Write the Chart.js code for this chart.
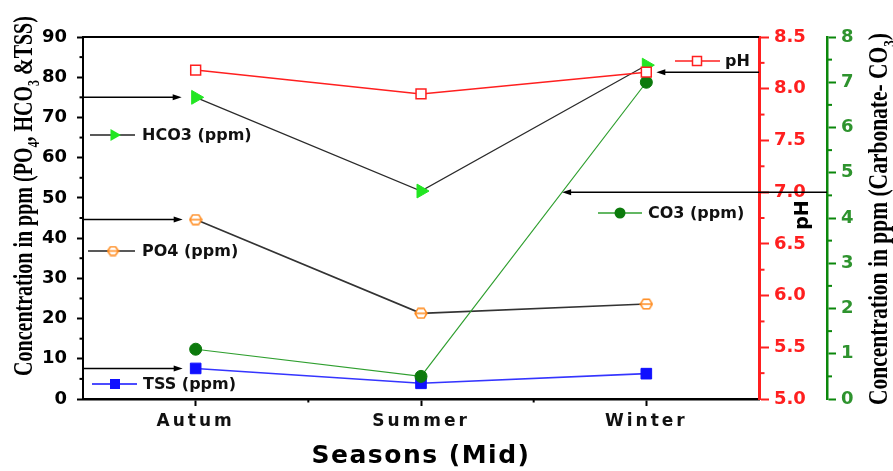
<!DOCTYPE html>
<html>
<head>
<meta charset="utf-8">
<script src="https://cdn.jsdelivr.net/npm/chart.js@4.4.1/dist/chart.umd.min.js"></script>
<style>
  html, body { margin: 0; padding: 0; background: #fff; }
  canvas { display: block; }
</style>
</head>
<body>
<canvas id="c" width="893" height="471"></canvas>
<script>
// Seasonal water chemistry (mid-season samples)
const seasons = ['Autum', 'Summer', 'Winter'];
const hco3 = [75, 51.7, 83];      // ppm, left axis
const po4 = [44.6, 21.3, 23.6];   // ppm, left axis
const tss = [7.6, 3.9, 6.3];      // ppm, left axis
const pH = [8.18, 7.95, 8.16];    // pH, first right axis
const co3 = [1.1, 0.5, 7.0];      // ppm, second right axis

const leftTicks = [0, 10, 20, 30, 40, 50, 60, 70, 80, 90];
const pHTicks = [5.0, 5.5, 6.0, 6.5, 7.0, 7.5, 8.0, 8.5];
const co3Ticks = [0, 1, 2, 3, 4, 5, 6, 7, 8];
const pHNeutral = 7.0;

const SANS = 'DejaVu Sans';
const SERIF = 'Liberation Serif';
const RED = '#ff1f1f';
const GREEN_AXIS = '#0b870b';
const GREEN_TEXT = '#2e932e';
const LIME = '#22e622';
const DARK_GREEN = '#0c7a0c';
const ORANGE = '#ff8a1c';
const BLUE = '#1010ff';

// Orange hexagon marker with a bar through it
function hexMarker(w, h) {
  const c = document.createElement('canvas');
  c.width = w; c.height = h;
  const g = c.getContext('2d');
  g.strokeStyle = ORANGE; g.lineWidth = 1.5; g.fillStyle = '#fff';
  const m = h / 2;
  g.beginPath();
  g.moveTo(4, 1.2); g.lineTo(w - 4, 1.2); g.lineTo(w - 1, m);
  g.lineTo(w - 4, h - 1.2); g.lineTo(4, h - 1.2); g.lineTo(1, m);
  g.closePath(); g.fill(); g.stroke();
  g.beginPath(); g.moveTo(1, m); g.lineTo(w - 1, m); g.stroke();
  return c;
}
const hexImg = hexMarker(14, 12);
const hexSmall = hexMarker(13, 11);

function ticksFrom(values) {
  return scale => { scale.ticks = values.map(v => ({ value: v })); };
}

// ---- marker helpers for the in-plot legend keys ----
function keyTriangle(ctx, x, y, r, color) {
  ctx.fillStyle = color;
  ctx.beginPath();
  ctx.moveTo(x + r, y);
  ctx.lineTo(x - r / 2, y - r * 0.866);
  ctx.lineTo(x - r / 2, y + r * 0.866);
  ctx.closePath();
  ctx.fill();
}
function keySquare(ctx, x, y, s, fill, stroke) {
  ctx.fillStyle = fill;
  ctx.fillRect(x - s / 2, y - s / 2, s, s);
  if (stroke) {
    ctx.strokeStyle = stroke; ctx.lineWidth = 1.5;
    ctx.strokeRect(x - s / 2, y - s / 2, s, s);
  }
}
function keyCircle(ctx, x, y, r, color) {
  ctx.fillStyle = color;
  ctx.beginPath(); ctx.arc(x, y, r, 0, Math.PI * 2); ctx.fill();
}

// text with subscripts, drawn from local origin along the baseline
function richText(ctx, parts, size, family, align) {
  const main = `bold ${size}px "${family}"`;
  const sub = `bold ${Math.round(size * 0.62)}px "${family}"`;
  let total = 0;
  for (const p of parts) {
    ctx.font = p.sub ? sub : main;
    total += ctx.measureText(p.t).width;
  }
  let x = align === 'center' ? -total / 2 : 0;
  ctx.textBaseline = 'alphabetic';
  ctx.textAlign = 'left';
  for (const p of parts) {
    ctx.font = p.sub ? sub : main;
    ctx.fillText(p.t, x, p.sub ? size * 0.28 : 0);
    x += ctx.measureText(p.t).width;
  }
}

function arrow(ctx, x0, y, x1) {
  // line from x0 to x1 with a head at x1
  const dir = Math.sign(x1 - x0);
  ctx.strokeStyle = '#000'; ctx.lineWidth = 1.5;
  ctx.beginPath(); ctx.moveTo(x0, y); ctx.lineTo(x1 - dir * 6, y); ctx.stroke();
  ctx.fillStyle = '#000';
  ctx.beginPath();
  ctx.moveTo(x1, y);
  ctx.lineTo(x1 - dir * 9, y - 3);
  ctx.lineTo(x1 - dir * 9, y + 3);
  ctx.closePath(); ctx.fill();
}

const decor = {
  id: 'decor',
  beforeDraw(chart) {
    const ctx = chart.ctx;
    ctx.save();
    ctx.fillStyle = '#fff';
    ctx.fillRect(0, 0, chart.width, chart.height);
    ctx.restore();
    const xs = chart.scales.x;
    if (!xs._spaced) {
      const orig = xs.drawLabels;
      xs.drawLabels = function (area) {
        this.ctx.save();
        this.ctx.letterSpacing = '3px';
        orig.call(this, area);
        this.ctx.restore();
      };
      xs._spaced = true;
    }
  },
  afterDraw(chart) {
    const ctx = chart.ctx;
    const { x, y, yPH, yCO3 } = chart.scales;
    const area = chart.chartArea;
    ctx.save();

    // frame top edge
    ctx.strokeStyle = '#000'; ctx.lineWidth = 2;
    ctx.beginPath(); ctx.moveTo(area.left, area.top); ctx.lineTo(area.right, area.top); ctx.stroke();

    // minor ticks
    const mids = arr => arr.slice(1).map((v, i) => (v + arr[i]) / 2);
    ctx.lineWidth = 2;
    ctx.strokeStyle = '#000';
    for (const v of mids(leftTicks)) {
      const py = y.getPixelForValue(v);
      ctx.beginPath(); ctx.moveTo(area.left, py); ctx.lineTo(area.left - 3.5, py); ctx.stroke();
    }
    for (let i = 0; i < seasons.length - 1; i++) {
      const px = (x.getPixelForValue(i) + x.getPixelForValue(i + 1)) / 2;
      ctx.beginPath(); ctx.moveTo(px, area.bottom); ctx.lineTo(px, area.bottom + 3.5); ctx.stroke();
    }
    ctx.strokeStyle = RED;
    for (const v of mids(pHTicks)) {
      const py = yPH.getPixelForValue(v);
      ctx.beginPath(); ctx.moveTo(yPH.left, py); ctx.lineTo(yPH.left + 5.5, py); ctx.stroke();
    }
    ctx.strokeStyle = GREEN_AXIS;
    for (const v of mids(co3Ticks)) {
      const py = yCO3.getPixelForValue(v);
      ctx.beginPath(); ctx.moveTo(yCO3.left, py); ctx.lineTo(yCO3.left + 5, py); ctx.stroke();
    }

    // pointers from the axes
    const x0 = x.getPixelForValue(0);
    const x2 = x.getPixelForValue(2);
    arrow(ctx, area.left, y.getPixelForValue(hco3[0]), x0 - 14);
    arrow(ctx, area.left, y.getPixelForValue(po4[0]), x0 - 13);
    arrow(ctx, area.left, y.getPixelForValue(tss[0]), x0 - 13);
    arrow(ctx, area.right, yPH.getPixelForValue(pH[2]), x2 + 10);
    // neutral pH line ends where the carbonate line crosses it
    const yN = yPH.getPixelForValue(pHNeutral);
    const ca = { x: x.getPixelForValue(1), y: yCO3.getPixelForValue(co3[1]) };
    const cb = { x: x.getPixelForValue(2), y: yCO3.getPixelForValue(co3[2]) };
    const xN = ca.x + (ca.y - yN) / (ca.y - cb.y) * (cb.x - ca.x);
    arrow(ctx, yCO3.left, yN, xN);

    // legend keys placed inside the plot
    ctx.lineWidth = 1.5;
    const keyLine = (xa, xb, yy, color) => {
      ctx.strokeStyle = color;
      ctx.beginPath(); ctx.moveTo(xa, yy); ctx.lineTo(xb, yy); ctx.stroke();
    };
    const keyText = (t, tx, ty) => {
      ctx.fillStyle = '#111';
      ctx.font = `bold 16px "${SANS}"`;
      ctx.textAlign = 'left'; ctx.textBaseline = 'middle';
      ctx.fillText(t, tx, ty);
    };
    keyLine(90, 135, 135, '#222'); keyTriangle(ctx, 114, 135, 7, LIME); keyText('HCO3 (ppm)', 142, 136);
    keyLine(88, 135, 251, '#222'); ctx.drawImage(hexSmall, 113 - 6.5, 251 - 5.5); keyText('PO4 (ppm)', 142, 252);
    keyLine(92, 137, 384, BLUE); keySquare(ctx, 115, 384, 10, BLUE); keyText('TSS (ppm)', 143, 385);
    keyLine(675, 720, 61, RED); keySquare(ctx, 697, 61, 9, '#fff', RED); keyText('pH', 725, 62);
    keyLine(598, 642, 213, '#2f9f2f'); keyCircle(ctx, 620, 213, 5.5, DARK_GREEN); keyText('CO3 (ppm)', 648, 214);

    // axis titles
    ctx.fillStyle = '#000';
    ctx.save();
    ctx.translate(32, 196); ctx.scale(1.33, 1); ctx.rotate(-Math.PI / 2);
    richText(ctx, [{ t: 'Concentration in ppm (PO' }, { t: '4', sub: true }, { t: ', HCO' }, { t: '3', sub: true }, { t: ' &TSS)' }], 20, SERIF, 'center');
    ctx.restore();

    ctx.save();
    ctx.translate(887, 219); ctx.scale(1.3, 1); ctx.rotate(-Math.PI / 2);
    richText(ctx, [{ t: 'Concentration in ppm (Carbonate- CO' }, { t: '3', sub: true }, { t: ')' }], 21.5, SERIF, 'center');
    ctx.restore();

    ctx.save();
    ctx.translate(808, 215); ctx.rotate(-Math.PI / 2);
    ctx.font = `bold 19px "${SANS}"`;
    ctx.textAlign = 'center'; ctx.textBaseline = 'alphabetic';
    ctx.fillText('pH', 0, 0);
    ctx.restore();

    ctx.font = `bold 25px "${SANS}"`;
    ctx.letterSpacing = '1.5px';
    ctx.textAlign = 'center'; ctx.textBaseline = 'alphabetic';
    ctx.fillText('Seasons (Mid)', (area.left + area.right) / 2, 463);
    ctx.letterSpacing = '0px';

    ctx.restore();
  }
};

const tickFont = { family: SANS, size: 18, weight: 'bold' };

new Chart(document.getElementById('c'), {
  type: 'line',
  data: {
    labels: seasons,
    datasets: [
      { label: 'pH', data: pH, yAxisID: 'yPH', borderColor: RED, borderWidth: 1.5,
        pointStyle: 'rect', pointRadius: 7, pointBackgroundColor: '#fff',
        pointBorderColor: RED, pointBorderWidth: 1.5 },
      { label: 'CO3 (ppm)', data: co3, yAxisID: 'yCO3', borderColor: '#2f9f2f', borderWidth: 1.2,
        pointStyle: 'circle', pointRadius: 6, pointBackgroundColor: DARK_GREEN,
        pointBorderColor: DARK_GREEN, pointBorderWidth: 1 },
      { label: 'HCO3 (ppm)', data: hco3, yAxisID: 'y', borderColor: '#2a2a2a', borderWidth: 1.2,
        pointStyle: 'triangle', pointRotation: 90, pointRadius: 8, pointBackgroundColor: LIME,
        pointBorderColor: LIME, pointBorderWidth: 1 },
      { label: 'PO4 (ppm)', data: po4, yAxisID: 'y', borderColor: '#333', borderWidth: 1.6,
        pointStyle: hexImg, pointRadius: 7 },
      { label: 'TSS (ppm)', data: tss, yAxisID: 'y', borderColor: '#3535ff', borderWidth: 1.6,
        pointStyle: 'rect', pointRadius: 7.5, pointBackgroundColor: BLUE,
        pointBorderColor: BLUE, pointBorderWidth: 1 }
    ]
  },
  options: {
    responsive: false,
    animation: false,
    events: [],
    layout: { padding: { top: 37, left: 0, right: 0, bottom: 0 } },
    plugins: { legend: { display: false }, tooltip: { enabled: false } },
    elements: { line: { tension: 0 } },
    scales: {
      x: {
        type: 'category', position: 'bottom', offset: true,
        grid: { offset: false, drawOnChartArea: false, drawTicks: true, tickLength: 7, tickWidth: 2, tickColor: '#000' },
        border: { display: true, color: '#000', width: 2.5 },
        ticks: { font: { family: SANS, size: 17, weight: 'bold' }, color: '#111', padding: 5, maxRotation: 0, autoSkip: false },
        afterFit: s => { s.height = 72; }
      },
      y: {
        position: 'left', min: leftTicks[0], max: leftTicks[leftTicks.length - 1],
        afterBuildTicks: ticksFrom(leftTicks),
        grid: { drawOnChartArea: false, tickLength: 6, tickWidth: 2, tickColor: '#000' },
        border: { color: '#000', width: 2 },
        ticks: { font: tickFont, color: '#000', padding: 10 },
        afterFit: s => { s.width = 83; }
      },
      yPH: {
        position: 'right', weight: 0, min: pHTicks[0], max: pHTicks[pHTicks.length - 1],
        afterBuildTicks: ticksFrom(pHTicks),
        grid: { drawOnChartArea: false, tickLength: 10, tickWidth: 2, tickColor: RED },
        border: { color: RED, width: 3 },
        ticks: { font: tickFont, color: RED, padding: 5, callback: v => Number(v).toFixed(1) },
        afterFit: s => { s.width = 68; }
      },
      yCO3: {
        position: 'right', weight: 1, min: co3Ticks[0], max: co3Ticks[co3Ticks.length - 1],
        afterBuildTicks: ticksFrom(co3Ticks),
        grid: { drawOnChartArea: false, tickLength: 9, tickWidth: 2, tickColor: GREEN_AXIS },
        border: { color: GREEN_AXIS, width: 2.5 },
        ticks: { font: tickFont, color: GREEN_TEXT, padding: 5 },
        afterFit: s => { s.width = 66; }
      }
    }
  },
  plugins: [decor]
});
</script>
</body>
</html>
